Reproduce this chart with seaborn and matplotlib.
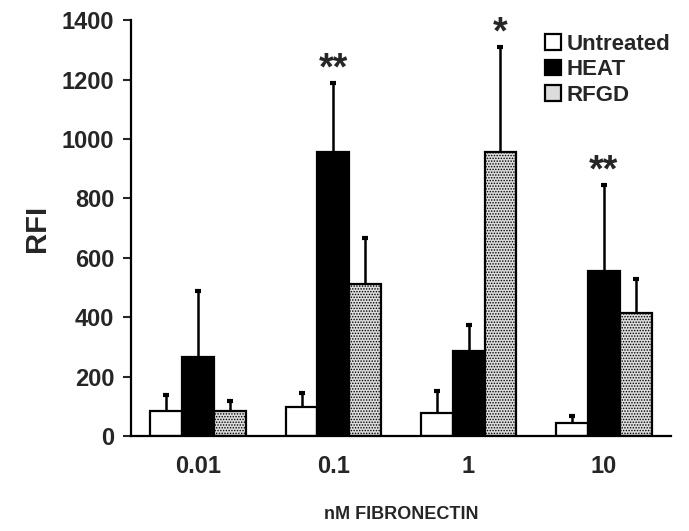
import numpy as np
import pandas as pd
import matplotlib
matplotlib.use("Agg")
import matplotlib.pyplot as plt
import seaborn as sns

# values
concentrations = ["0.01", "0.1", "1", "10"]
groups = ["Untreated", "HEAT", "RFGD"]
untreated = [84, 98, 77, 44]
heat = [266, 956, 285, 555]
rfgd = [84, 510, 956, 415]
untreated_err = [54, 47, 74, 23]
heat_err = [222, 232, 87, 290]
rfgd_err = [34, 155, 353, 115]
stars = {("0.1", "HEAT"): "**", ("1", "RFGD"): "*", ("10", "HEAT"): "**"}

sns.set_style("white")
plt.rcParams["font.family"] = ["Liberation Sans", "DejaVu Sans"]
plt.rcParams["font.weight"] = "bold"
plt.rcParams["hatch.linewidth"] = 0.7

rows = []
for i, c in enumerate(concentrations):
    rows.append((c, "Untreated", untreated[i], untreated_err[i]))
    rows.append((c, "HEAT", heat[i], heat_err[i]))
    rows.append((c, "RFGD", rfgd[i], rfgd_err[i]))
df = pd.DataFrame(rows, columns=["conc", "group", "rfi", "err"])

fig = plt.figure(figsize=(6.89, 5.31), dpi=100)
ax = fig.add_axes([0.190, 0.179, 0.784, 0.783])

palette = {"Untreated": "white", "HEAT": "black", "RFGD": "#dcdcdc"}
sns.barplot(data=df, x="conc", y="rfi", hue="group", order=concentrations,
            hue_order=groups, palette=palette, width=0.71, errorbar=None,
            edgecolor="black", linewidth=1.6, saturation=1, ax=ax)

# bar containers follow hue order; add one-sided error bars and stars
for g, cont in zip(groups, ax.containers):
    sub = df[df["group"] == g].set_index("conc").loc[concentrations]
    for bar, c, v, e in zip(cont, concentrations, sub["rfi"], sub["err"]):
        if g == "RFGD":
            bar.set_hatch("......")
        xc = bar.get_x() + bar.get_width() / 2
        eb = ax.errorbar(xc, v, yerr=[[0], [e]], fmt="none", ecolor="black",
                         elinewidth=1.8, capsize=2.5, capthick=3, zorder=1)
        eb[1][0].set_visible(False)  # only the upper cap
        if (c, g) in stars:
            ax.text(xc, v + e - 16, stars[(c, g)], ha="center", va="bottom",
                    fontsize=27, fontweight="bold")

ax.set_xlim(-0.5, 3.5)
ax.set_ylim(0, 1400)
ax.set_yticks(np.arange(0, 1401, 200))
ax.tick_params(axis="y", direction="out", length=6, width=1.5, left=True,
               labelsize=17, pad=6)
ax.tick_params(axis="x", length=0, labelsize=17, pad=14)
for lab in ax.get_xticklabels() + ax.get_yticklabels():
    lab.set_fontweight("bold")
sns.despine(ax=ax)
for s in ["left", "bottom"]:
    ax.spines[s].set_linewidth(1.6)
    ax.spines[s].set_color("black")

ax.set_ylabel("RFI", fontsize=21, fontweight="bold", labelpad=8)
ax.set_xlabel("nM FIBRONECTIN", fontsize=13, fontweight="bold", labelpad=20)

leg = ax.legend(loc="upper right", bbox_to_anchor=(1.035, 1.015), frameon=False,
                fontsize=16, handlelength=0.7, handleheight=0.7,
                handletextpad=0.25, labelspacing=0.2)
for t in leg.get_texts():
    t.set_fontweight("bold")

fig.savefig("out.png", dpi=100)
